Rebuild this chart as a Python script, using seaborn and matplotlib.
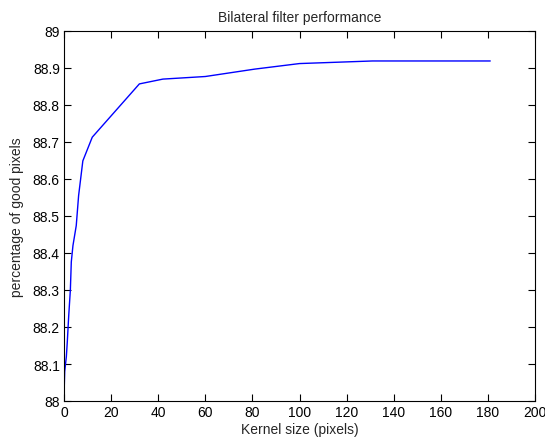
import matplotlib
matplotlib.use("Agg")
import matplotlib.pyplot as plt
import seaborn as sns
import pandas as pd

kernel_size = [0, 0.3, 1, 1.4, 2, 2.7, 3.1, 3.8, 5.2, 6.2, 8, 12, 32, 42, 60, 81, 100, 131, 181]
good_pct = [88.014, 88.08, 88.12, 88.16, 88.23, 88.30, 88.376, 88.42, 88.474, 88.555,
            88.649, 88.713, 88.857, 88.87, 88.877, 88.897, 88.912, 88.919, 88.919]
x_ticks = [0, 20, 40, 60, 80, 100, 120, 140, 160, 180, 200]
y_ticks = [88, 88.1, 88.2, 88.3, 88.4, 88.5, 88.6, 88.7, 88.8, 88.9, 89]
y_tick_labels = ["88", "88.1", "88.2", "88.3", "88.4", "88.5", "88.6", "88.7", "88.8", "88.9", "89"]

sns.set_style("ticks")
plt.rcParams["font.family"] = ["Liberation Sans", "DejaVu Sans"]
plt.rcParams["font.size"] = 10

df = pd.DataFrame({"Kernel size (pixels)": kernel_size, "percentage of good pixels": good_pct})

fig = plt.figure(figsize=(5.45, 4.39), dpi=100, facecolor="white")
ax = fig.add_axes([64 / 545, 1 - 402 / 439, (535 - 64) / 545, (402 - 32) / 439])
sns.lineplot(data=df, x="Kernel size (pixels)", y="percentage of good pixels",
             color="#0000ff", linewidth=1.0, ax=ax, sort=False)

ax.set_xlim(0, 200)
ax.set_ylim(88, 89)
ax.set_xticks(x_ticks)
ax.set_yticks(y_ticks)
ax.set_yticklabels(y_tick_labels)
ax.tick_params(direction="in", length=5, width=0.8, top=True, right=True,
               labelsize=10, colors="black", pad=3)
for s in ax.spines.values():
    s.set_visible(True)
    s.set_linewidth(0.8)
    s.set_color("black")
ax.set_title("Bilateral filter performance", fontsize=10, pad=7)
ax.set_xlabel("Kernel size (pixels)", fontsize=10, labelpad=2)
ax.set_ylabel("percentage of good pixels", fontsize=10, labelpad=6)

fig.savefig("out.png", dpi=100, facecolor="white")
